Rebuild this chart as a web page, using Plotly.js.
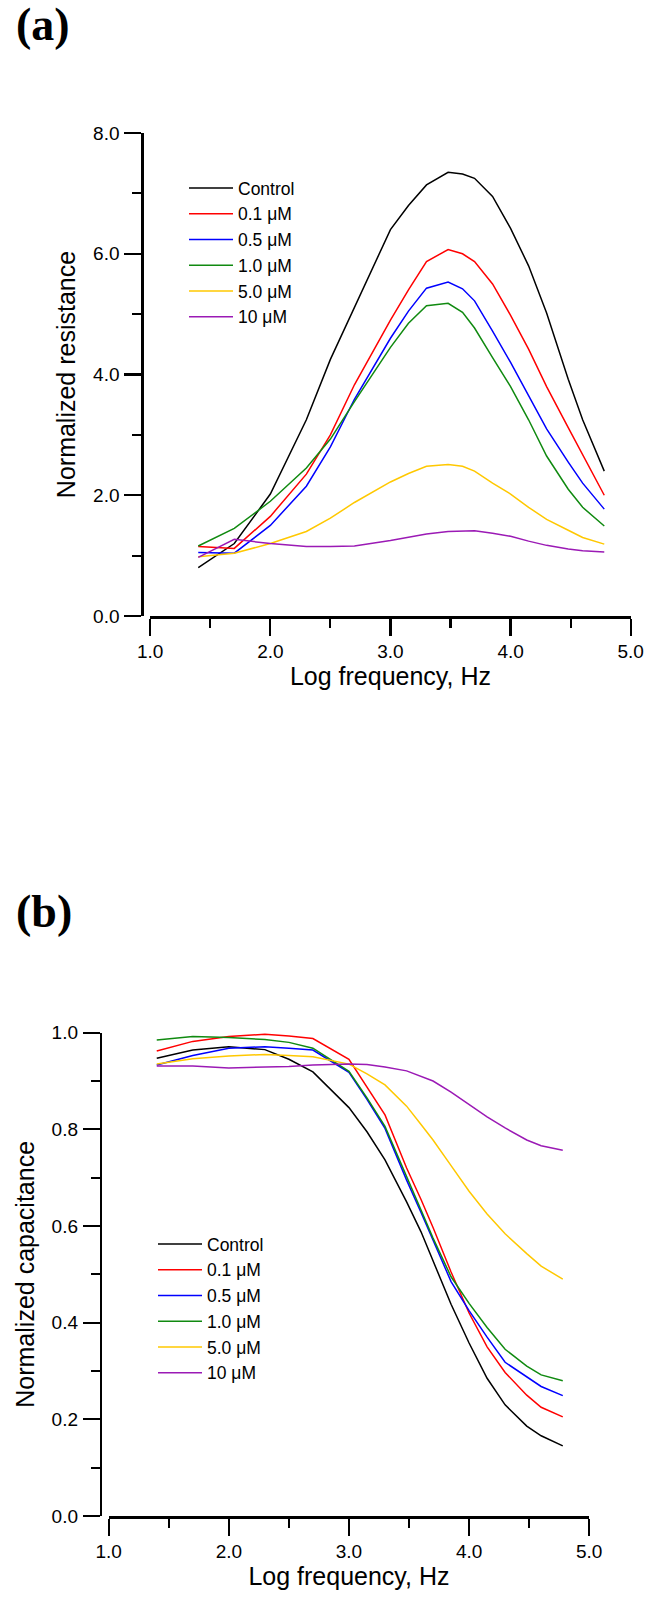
<!DOCTYPE html>
<html>
<head>
<meta charset="utf-8">
<script src="https://cdn.plot.ly/plotly-3.0.1.min.js"></script>
<style>
  html, body { margin: 0; padding: 0; background: #ffffff; }
  #chart { width: 652px; height: 1604px; }
</style>
</head>
<body>
<div id="chart"></div>
<script>
// ---------------- data ----------------
const logFreq = [1.4, 1.7, 2.0, 2.3, 2.5, 2.7, 3.0, 3.15, 3.3, 3.48, 3.6, 3.7, 3.85, 4.0, 4.15, 4.3, 4.48, 4.6, 4.78];
const seriesNames = ['Control', '0.1 \u03bcM', '0.5 \u03bcM', '1.0 \u03bcM', '5.0 \u03bcM', '10 \u03bcM'];
const seriesColors = ['#000000', '#ff0000', '#0000ff', '#108a10', '#ffc800', '#9b1ab5'];

// (a) normalized resistance
const resControl = [0.80, 1.20, 2.02, 3.25, 4.25, 5.10, 6.40, 6.80, 7.14, 7.35, 7.32, 7.25, 6.95, 6.42, 5.80, 5.02, 3.92, 3.25, 2.40];
const res01 = [1.15, 1.12, 1.65, 2.35, 3.00, 3.83, 4.90, 5.40, 5.87, 6.07, 6.00, 5.87, 5.50, 4.98, 4.42, 3.80, 3.12, 2.68, 2.00];
const res05 = [1.05, 1.04, 1.50, 2.15, 2.80, 3.59, 4.60, 5.05, 5.43, 5.53, 5.42, 5.22, 4.72, 4.20, 3.65, 3.10, 2.55, 2.20, 1.77];
const res10 = [1.16, 1.45, 1.90, 2.45, 2.93, 3.55, 4.45, 4.85, 5.14, 5.18, 5.03, 4.77, 4.28, 3.80, 3.25, 2.65, 2.10, 1.80, 1.49];
const res50 = [0.98, 1.04, 1.20, 1.40, 1.62, 1.88, 2.22, 2.36, 2.48, 2.51, 2.48, 2.40, 2.20, 2.02, 1.80, 1.60, 1.42, 1.30, 1.19];
const res100 = [0.97, 1.27, 1.20, 1.15, 1.15, 1.16, 1.25, 1.31, 1.36, 1.40, 1.41, 1.41, 1.37, 1.32, 1.24, 1.17, 1.11, 1.08, 1.06];

// (b) normalized capacitance
const capControl = [0.947, 0.964, 0.971, 0.965, 0.945, 0.919, 0.845, 0.795, 0.737, 0.650, 0.588, 0.528, 0.438, 0.358, 0.285, 0.230, 0.186, 0.166, 0.145];
const cap01 = [0.962, 0.982, 0.992, 0.997, 0.993, 0.988, 0.945, 0.888, 0.830, 0.720, 0.655, 0.597, 0.505, 0.420, 0.350, 0.297, 0.250, 0.225, 0.205];
const cap05 = [0.933, 0.953, 0.968, 0.971, 0.968, 0.964, 0.918, 0.862, 0.802, 0.695, 0.628, 0.570, 0.485, 0.425, 0.370, 0.318, 0.288, 0.268, 0.249];
const cap10 = [0.985, 0.992, 0.990, 0.986, 0.980, 0.968, 0.920, 0.865, 0.806, 0.700, 0.633, 0.575, 0.495, 0.440, 0.390, 0.345, 0.310, 0.292, 0.280];
const cap50 = [0.935, 0.946, 0.952, 0.955, 0.953, 0.950, 0.935, 0.915, 0.892, 0.848, 0.810, 0.778, 0.725, 0.672, 0.625, 0.584, 0.543, 0.517, 0.490];
const cap100 = [0.931, 0.931, 0.927, 0.928, 0.930, 0.933, 0.935, 0.934, 0.929, 0.921, 0.910, 0.900, 0.877, 0.852, 0.826, 0.803, 0.778, 0.766, 0.757];

const xTickVals = [1, 2, 3, 4, 5];
const xTickText = ['1.0', '2.0', '3.0', '4.0', '5.0'];
const resTickVals = [0, 2, 4, 6, 8];
const resTickText = ['0.0', '2.0', '4.0', '6.0', '8.0'];
const capTickVals = [0, 0.2, 0.4, 0.6, 0.8, 1.0];
const capTickText = ['0.0', '0.2', '0.4', '0.6', '0.8', '1.0'];

// ---------------- traces ----------------
const resSeries = [resControl, res01, res05, res10, res50, res100];
const capSeries = [capControl, cap01, cap05, cap10, cap50, cap100];
const traces = [];
resSeries.forEach((ys, i) => {
  traces.push({
    type: 'scatter', mode: 'lines', x: logFreq, y: ys,
    name: seriesNames[i], xaxis: 'x', yaxis: 'y', legend: 'legend',
    line: { color: seriesColors[i], width: 1.5 }
  });
});
capSeries.forEach((ys, i) => {
  traces.push({
    type: 'scatter', mode: 'lines', x: logFreq, y: ys,
    name: seriesNames[i], xaxis: 'x2', yaxis: 'y2', legend: 'legend2',
    line: { color: seriesColors[i], width: 1.5 }
  });
});

// ---------------- layout ----------------
const W = 652, H = 1604;
const px = v => v / W;
const py = v => (H - v) / H;
const tickFont = { family: 'Arial, "Liberation Sans", sans-serif', size: 19, color: '#000' };
const titleFont = { family: 'Arial, "Liberation Sans", sans-serif', size: 25, color: '#000' };

function xAxis(domain, anchor) {
  return {
    domain: domain, anchor: anchor, range: [1, 5], autorange: false,
    tickmode: 'array', tickvals: xTickVals, ticktext: xTickText,
    ticks: 'outside', ticklen: 17, tickwidth: 2.2, tickcolor: '#000',
    minor: { ticks: 'outside', dtick: 0.5, tick0: 1, ticklen: 9, tickwidth: 2.2, tickcolor: '#000', showgrid: false },
    showline: true, linewidth: 2.5, linecolor: '#000', mirror: false,
    showgrid: false, zeroline: false, tickfont: tickFont,
    title: { text: 'Log frequency, Hz', font: titleFont, standoff: 5 },
    automargin: false
  };
}
function yAxis(domain, pos, range, vals, text, minorDtick, title) {
  return {
    domain: domain, anchor: 'free', position: pos, range: range, autorange: false,
    tickmode: 'array', tickvals: vals, ticktext: text,
    ticks: 'outside', ticklen: 17, tickwidth: 2.2, tickcolor: '#000',
    minor: { ticks: 'outside', dtick: minorDtick, tick0: 0, ticklen: 9, tickwidth: 2.2, tickcolor: '#000', showgrid: false },
    showline: true, linewidth: 2.5, linecolor: '#000',
    showgrid: false, zeroline: false, tickfont: tickFont, ticklabelstandoff: 1,
    title: { text: title, font: titleFont, standoff: 9 },
    automargin: false
  };
}

const legendFont = { family: 'Arial, "Liberation Sans", sans-serif', size: 17.5, color: '#000' };
const layout = {
  width: W, height: H,
  margin: { l: 0, r: 0, t: 0, b: 0 },
  paper_bgcolor: '#ffffff', plot_bgcolor: 'rgba(0,0,0,0)',
  showlegend: true,
  xaxis: xAxis([px(150.2), px(630.7)], 'y'),
  yaxis: yAxis([py(616), py(133)], px(142.3), [0, 8], resTickVals, resTickText, 1, 'Normalized resistance'),
  xaxis2: xAxis([px(108.7), px(589.2)], 'y2'),
  yaxis2: yAxis([py(1516), py(1032.7)], px(100.8), [0, 1], capTickVals, capTickText, 0.1, 'Normalized capacitance'),
  legend: {
    x: px(184), y: py(170), xanchor: 'left', yanchor: 'top',
    bgcolor: 'rgba(0,0,0,0)', borderwidth: 0, itemwidth: 44,
    font: legendFont, tracegroupgap: 0
  },
  legend2: {
    x: px(153), y: py(1226), xanchor: 'left', yanchor: 'top',
    bgcolor: 'rgba(0,0,0,0)', borderwidth: 0, itemwidth: 44,
    font: legendFont, tracegroupgap: 0
  },
  annotations: [
    { text: '<b>(a)</b>', xref: 'paper', yref: 'paper', x: px(42.5), y: py(25), xanchor: 'center', yanchor: 'middle',
      showarrow: false, font: { family: '"Liberation Serif", "Times New Roman", serif', size: 46, color: '#000' } },
    { text: '<b>(b)</b>', xref: 'paper', yref: 'paper', x: px(43.5), y: py(911.5), xanchor: 'center', yanchor: 'middle',
      showarrow: false, font: { family: '"Liberation Serif", "Times New Roman", serif', size: 46, color: '#000' } }
  ]
};

Plotly.newPlot('chart', traces, layout, { staticPlot: true, displayModeBar: false });
</script>
</body>
</html>
